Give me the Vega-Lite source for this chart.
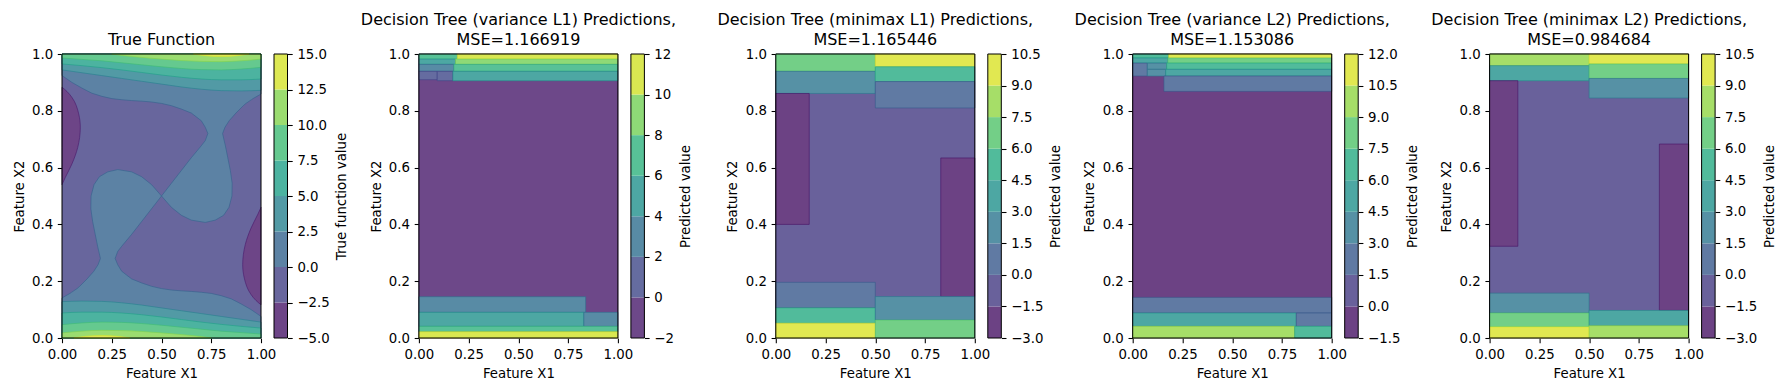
{
"$schema":"https://vega.github.io/schema/vega-lite/v6.json",
"padding":{"left":12,"top":12,"right":5,"bottom":5},
"bounds":"flush",
"spacing":157.9,
"resolve":{"scale":{"color":"independent","stroke":"independent"}},
"config":{
 "font":"DejaVu Sans",
 "view":{"stroke":null},
 "axis":{"labelFont":"DejaVu Sans","labelFontSize":13.3,"labelColor":"black","titleFont":"DejaVu Sans","titleFontSize":13.3,"titleFontWeight":"normal","titleColor":"black","tickColor":"black","tickSize":4.7,"tickWidth":1.07,"labelPadding":4.7,"titlePadding":5.3,"domain":false,"grid":false,"labelFlush":false,"labelOverlap":false},
 "title":{"font":"DejaVu Sans","fontSize":16,"fontWeight":"normal","color":"black","anchor":"middle","frame":"group","baseline":"bottom","offset":-0.5,"lineHeight":19.5}
},
"datasets":{
 "tree":[
  {"p":2,"x":0,"x2":1,"y":0,"y2":1,"v":-1},
  {"p":2,"x":0,"x2":0.193,"y":0.982,"y2":1,"v":7},
  {"p":2,"x":0.193,"x2":1,"y":0.982,"y2":1,"v":11},
  {"p":2,"x":0,"x2":0.184,"y":0.9635,"y2":0.982,"v":5},
  {"p":2,"x":0.184,"x2":1,"y":0.9635,"y2":0.982,"v":9},
  {"p":2,"x":0,"x2":0.176,"y":0.939,"y2":0.9635,"v":3},
  {"p":2,"x":0.176,"x2":1,"y":0.939,"y2":0.9635,"v":7},
  {"p":2,"x":0,"x2":0.092,"y":0.9096,"y2":0.939,"v":1},
  {"p":2,"x":0.092,"x2":0.171,"y":0.906,"y2":0.939,"v":1},
  {"p":2,"x":0.171,"x2":1,"y":0.906,"y2":0.939,"v":5},
  {"p":2,"x":0,"x2":0.838,"y":0.0903,"y2":0.1454,"v":3},
  {"p":2,"x":0,"x2":0.829,"y":0.041,"y2":0.0903,"v":5},
  {"p":2,"x":0.829,"x2":1,"y":0.041,"y2":0.0903,"v":3},
  {"p":2,"x":0,"x2":1,"y":0.022,"y2":0.041,"v":7},
  {"p":2,"x":0,"x2":1,"y":0,"y2":0.022,"v":11},
  {"p":3,"x":0,"x2":1,"y":0,"y2":1,"v":-0.75},
  {"p":3,"x":0,"x2":0.5,"y":0.939,"y2":1,"v":6.75},
  {"p":3,"x":0,"x2":0.5,"y":0.861,"y2":0.939,"v":2.25},
  {"p":3,"x":0,"x2":0.168,"y":0.4,"y2":0.861,"v":-2.25},
  {"p":3,"x":0.5,"x2":1,"y":0.955,"y2":1,"v":9.75},
  {"p":3,"x":0.5,"x2":1,"y":0.903,"y2":0.955,"v":5.25},
  {"p":3,"x":0.5,"x2":1,"y":0.81,"y2":0.903,"v":0.75},
  {"p":3,"x":0.829,"x2":1,"y":0.146,"y2":0.634,"v":-2.25},
  {"p":3,"x":0,"x2":0.5,"y":0.106,"y2":0.196,"v":0.75},
  {"p":3,"x":0,"x2":0.5,"y":0.052,"y2":0.106,"v":5.25},
  {"p":3,"x":0,"x2":0.5,"y":0,"y2":0.052,"v":9.75},
  {"p":3,"x":0.5,"x2":1,"y":0.063,"y2":0.146,"v":2.25},
  {"p":3,"x":0.5,"x2":1,"y":0,"y2":0.063,"v":6.75},
  {"p":4,"x":0,"x2":1,"y":0,"y2":1,"v":-0.75},
  {"p":4,"x":0,"x2":0.181,"y":0.986,"y2":1,"v":6.75},
  {"p":4,"x":0.181,"x2":1,"y":0.986,"y2":1,"v":11.25},
  {"p":4,"x":0,"x2":0.177,"y":0.968,"y2":0.986,"v":5.25},
  {"p":4,"x":0.177,"x2":1,"y":0.968,"y2":0.986,"v":8.25},
  {"p":4,"x":0,"x2":0.0735,"y":0.9225,"y2":0.968,"v":2.25},
  {"p":4,"x":0.0735,"x2":0.171,"y":0.946,"y2":0.968,"v":3.75},
  {"p":4,"x":0.0735,"x2":0.166,"y":0.9225,"y2":0.946,"v":3.75},
  {"p":4,"x":0.171,"x2":1,"y":0.946,"y2":0.968,"v":6.75},
  {"p":4,"x":0.166,"x2":1,"y":0.9225,"y2":0.946,"v":5.25},
  {"p":4,"x":0.157,"x2":1,"y":0.8685,"y2":0.9225,"v":2.25},
  {"p":4,"x":0,"x2":1,"y":0.0879,"y2":0.143,"v":2.25},
  {"p":4,"x":0,"x2":0.822,"y":0.041,"y2":0.0879,"v":5.25},
  {"p":4,"x":0.822,"x2":1,"y":0.041,"y2":0.0879,"v":2.25},
  {"p":4,"x":0,"x2":0.814,"y":0,"y2":0.041,"v":9.75},
  {"p":4,"x":0.814,"x2":1,"y":0,"y2":0.041,"v":6.75},
  {"p":5,"x":0,"x2":1,"y":0,"y2":1,"v":-0.75},
  {"p":5,"x":0,"x2":0.5,"y":0.959,"y2":1,"v":8.25},
  {"p":5,"x":0,"x2":0.5,"y":0.906,"y2":0.959,"v":3.75},
  {"p":5,"x":0,"x2":0.142,"y":0.323,"y2":0.906,"v":-2.25},
  {"p":5,"x":0.5,"x2":1,"y":0.965,"y2":1,"v":9.75},
  {"p":5,"x":0.5,"x2":1,"y":0.914,"y2":0.965,"v":6.75},
  {"p":5,"x":0.5,"x2":1,"y":0.845,"y2":0.914,"v":2.25},
  {"p":5,"x":0.853,"x2":1,"y":0.097,"y2":0.683,"v":-2.25},
  {"p":5,"x":0,"x2":0.5,"y":0.088,"y2":0.158,"v":2.25},
  {"p":5,"x":0,"x2":0.5,"y":0.039,"y2":0.088,"v":6.75},
  {"p":5,"x":0,"x2":0.5,"y":0,"y2":0.039,"v":9.75},
  {"p":5,"x":0.5,"x2":1,"y":0.043,"y2":0.097,"v":3.75},
  {"p":5,"x":0.5,"x2":1,"y":0,"y2":0.043,"v":8.25}
 ],
 "cb":[
  {"p":1,"lo":-5,"hi":-2.5,"v":-3.75},{"p":1,"lo":-2.5,"hi":0,"v":-1.25},{"p":1,"lo":0,"hi":2.5,"v":1.25},{"p":1,"lo":2.5,"hi":5,"v":3.75},{"p":1,"lo":5,"hi":7.5,"v":6.25},{"p":1,"lo":7.5,"hi":10,"v":8.75},{"p":1,"lo":10,"hi":12.5,"v":11.25},{"p":1,"lo":12.5,"hi":15,"v":13.75},
  {"p":2,"lo":-2,"hi":0,"v":-1},{"p":2,"lo":0,"hi":2,"v":1},{"p":2,"lo":2,"hi":4,"v":3},{"p":2,"lo":4,"hi":6,"v":5},{"p":2,"lo":6,"hi":8,"v":7},{"p":2,"lo":8,"hi":10,"v":9},{"p":2,"lo":10,"hi":12,"v":11},
  {"p":3,"lo":-3,"hi":-1.5,"v":-2.25},{"p":3,"lo":-1.5,"hi":0,"v":-0.75},{"p":3,"lo":0,"hi":1.5,"v":0.75},{"p":3,"lo":1.5,"hi":3,"v":2.25},{"p":3,"lo":3,"hi":4.5,"v":3.75},{"p":3,"lo":4.5,"hi":6,"v":5.25},{"p":3,"lo":6,"hi":7.5,"v":6.75},{"p":3,"lo":7.5,"hi":9,"v":8.25},{"p":3,"lo":9,"hi":10.5,"v":9.75},
  {"p":4,"lo":-1.5,"hi":0,"v":-0.75},{"p":4,"lo":0,"hi":1.5,"v":0.75},{"p":4,"lo":1.5,"hi":3,"v":2.25},{"p":4,"lo":3,"hi":4.5,"v":3.75},{"p":4,"lo":4.5,"hi":6,"v":5.25},{"p":4,"lo":6,"hi":7.5,"v":6.75},{"p":4,"lo":7.5,"hi":9,"v":8.25},{"p":4,"lo":9,"hi":10.5,"v":9.75},{"p":4,"lo":10.5,"hi":12,"v":11.25},
  {"p":5,"lo":-3,"hi":-1.5,"v":-2.25},{"p":5,"lo":-1.5,"hi":0,"v":-0.75},{"p":5,"lo":0,"hi":1.5,"v":0.75},{"p":5,"lo":1.5,"hi":3,"v":2.25},{"p":5,"lo":3,"hi":4.5,"v":3.75},{"p":5,"lo":4.5,"hi":6,"v":5.25},{"p":5,"lo":6,"hi":7.5,"v":6.75},{"p":5,"lo":7.5,"hi":9,"v":8.25},{"p":5,"lo":9,"hi":10.5,"v":9.75}
 ],
 "f":[
  {"s":"bg","x":0,"x2":1,"y":0,"y2":1,"v":-1.25},
  {"s":"t2","x":0,"y":0.944,"y2":1,"v":3.75},{"s":"t2","x":0.1,"y":0.934,"y2":1,"v":3.75},{"s":"t2","x":0.2,"y":0.924,"y2":1,"v":3.75},{"s":"t2","x":0.3,"y":0.914,"y2":1,"v":3.75},{"s":"t2","x":0.4,"y":0.904,"y2":1,"v":3.75},{"s":"t2","x":0.5,"y":0.894,"y2":1,"v":3.75},{"s":"t2","x":0.6,"y":0.884,"y2":1,"v":3.75},{"s":"t2","x":0.7,"y":0.876,"y2":1,"v":3.75},{"s":"t2","x":0.8,"y":0.871,"y2":1,"v":3.75},{"s":"t2","x":0.9,"y":0.87,"y2":1,"v":3.75},{"s":"t2","x":1,"y":0.872,"y2":1,"v":3.75},
  {"s":"t5","x":0,"y":0.965,"y2":1,"v":6.25},{"s":"t5","x":0.1,"y":0.959,"y2":1,"v":6.25},{"s":"t5","x":0.2,"y":0.952,"y2":1,"v":6.25},{"s":"t5","x":0.3,"y":0.944,"y2":1,"v":6.25},{"s":"t5","x":0.4,"y":0.935,"y2":1,"v":6.25},{"s":"t5","x":0.5,"y":0.926,"y2":1,"v":6.25},{"s":"t5","x":0.6,"y":0.918,"y2":1,"v":6.25},{"s":"t5","x":0.7,"y":0.912,"y2":1,"v":6.25},{"s":"t5","x":0.8,"y":0.909,"y2":1,"v":6.25},{"s":"t5","x":0.9,"y":0.909,"y2":1,"v":6.25},{"s":"t5","x":1,"y":0.912,"y2":1,"v":6.25},
  {"s":"t7","x":0,"y":0.986,"y2":1,"v":8.75},{"s":"t7","x":0.1,"y":0.981,"y2":1,"v":8.75},{"s":"t7","x":0.2,"y":0.976,"y2":1,"v":8.75},{"s":"t7","x":0.3,"y":0.969,"y2":1,"v":8.75},{"s":"t7","x":0.4,"y":0.962,"y2":1,"v":8.75},{"s":"t7","x":0.5,"y":0.955,"y2":1,"v":8.75},{"s":"t7","x":0.6,"y":0.949,"y2":1,"v":8.75},{"s":"t7","x":0.7,"y":0.945,"y2":1,"v":8.75},{"s":"t7","x":0.8,"y":0.944,"y2":1,"v":8.75},{"s":"t7","x":0.9,"y":0.947,"y2":1,"v":8.75},{"s":"t7","x":1,"y":0.953,"y2":1,"v":8.75},
  {"s":"t10","x":0.25,"y":1,"y2":1,"v":11.25},{"s":"t10","x":0.3,"y":0.995,"y2":1,"v":11.25},{"s":"t10","x":0.4,"y":0.988,"y2":1,"v":11.25},{"s":"t10","x":0.5,"y":0.982,"y2":1,"v":11.25},{"s":"t10","x":0.6,"y":0.977,"y2":1,"v":11.25},{"s":"t10","x":0.7,"y":0.974,"y2":1,"v":11.25},{"s":"t10","x":0.8,"y":0.973,"y2":1,"v":11.25},{"s":"t10","x":0.9,"y":0.976,"y2":1,"v":11.25},{"s":"t10","x":1,"y":0.982,"y2":1,"v":11.25},
  {"s":"t12","x":0.66,"y":1,"y2":1,"v":13.75},{"s":"t12","x":0.72,"y":0.994,"y2":1,"v":13.75},{"s":"t12","x":0.8,"y":0.991,"y2":1,"v":13.75},{"s":"t12","x":0.88,"y":0.994,"y2":1,"v":13.75},{"s":"t12","x":0.94,"y":1,"y2":1,"v":13.75},
  {"s":"b2","x":0,"y":0,"y2":0.128,"v":3.75},{"s":"b2","x":0.1,"y":0,"y2":0.13,"v":3.75},{"s":"b2","x":0.2,"y":0,"y2":0.129,"v":3.75},{"s":"b2","x":0.3,"y":0,"y2":0.124,"v":3.75},{"s":"b2","x":0.4,"y":0,"y2":0.116,"v":3.75},{"s":"b2","x":0.5,"y":0,"y2":0.106,"v":3.75},{"s":"b2","x":0.6,"y":0,"y2":0.096,"v":3.75},{"s":"b2","x":0.7,"y":0,"y2":0.086,"v":3.75},{"s":"b2","x":0.8,"y":0,"y2":0.076,"v":3.75},{"s":"b2","x":0.9,"y":0,"y2":0.066,"v":3.75},{"s":"b2","x":1,"y":0,"y2":0.056,"v":3.75},
  {"s":"b5","x":0,"y":0,"y2":0.088,"v":6.25},{"s":"b5","x":0.1,"y":0,"y2":0.091,"v":6.25},{"s":"b5","x":0.2,"y":0,"y2":0.091,"v":6.25},{"s":"b5","x":0.3,"y":0,"y2":0.088,"v":6.25},{"s":"b5","x":0.4,"y":0,"y2":0.082,"v":6.25},{"s":"b5","x":0.5,"y":0,"y2":0.074,"v":6.25},{"s":"b5","x":0.6,"y":0,"y2":0.065,"v":6.25},{"s":"b5","x":0.7,"y":0,"y2":0.056,"v":6.25},{"s":"b5","x":0.8,"y":0,"y2":0.048,"v":6.25},{"s":"b5","x":0.9,"y":0,"y2":0.041,"v":6.25},{"s":"b5","x":1,"y":0,"y2":0.035,"v":6.25},
  {"s":"b7","x":0,"y":0,"y2":0.047,"v":8.75},{"s":"b7","x":0.1,"y":0,"y2":0.053,"v":8.75},{"s":"b7","x":0.2,"y":0,"y2":0.056,"v":8.75},{"s":"b7","x":0.3,"y":0,"y2":0.055,"v":8.75},{"s":"b7","x":0.4,"y":0,"y2":0.051,"v":8.75},{"s":"b7","x":0.5,"y":0,"y2":0.045,"v":8.75},{"s":"b7","x":0.6,"y":0,"y2":0.038,"v":8.75},{"s":"b7","x":0.7,"y":0,"y2":0.031,"v":8.75},{"s":"b7","x":0.8,"y":0,"y2":0.024,"v":8.75},{"s":"b7","x":0.9,"y":0,"y2":0.019,"v":8.75},{"s":"b7","x":1,"y":0,"y2":0.014,"v":8.75},
  {"s":"b10","x":0,"y":0,"y2":0.018,"v":11.25},{"s":"b10","x":0.1,"y":0,"y2":0.024,"v":11.25},{"s":"b10","x":0.2,"y":0,"y2":0.027,"v":11.25},{"s":"b10","x":0.3,"y":0,"y2":0.026,"v":11.25},{"s":"b10","x":0.4,"y":0,"y2":0.023,"v":11.25},{"s":"b10","x":0.5,"y":0,"y2":0.018,"v":11.25},{"s":"b10","x":0.6,"y":0,"y2":0.012,"v":11.25},{"s":"b10","x":0.7,"y":0,"y2":0.005,"v":11.25},{"s":"b10","x":0.75,"y":0,"y2":0,"v":11.25},
  {"s":"b12","x":0.06,"y":0,"y2":0,"v":13.75},{"s":"b12","x":0.12,"y":0,"y2":0.006,"v":13.75},{"s":"b12","x":0.2,"y":0,"y2":0.009,"v":13.75},{"s":"b12","x":0.28,"y":0,"y2":0.006,"v":13.75},{"s":"b12","x":0.34,"y":0,"y2":0,"v":13.75},
  {"s":"sl","g":"T","y":0.407,"x":0.72,"x2":0.72,"v":1.25},{"s":"sl","g":"T","y":0.415,"x":0.65,"x2":0.77,"v":1.25},{"s":"sl","g":"T","y":0.432,"x":0.6,"x2":0.812,"v":1.25},{"s":"sl","g":"T","y":0.46,"x":0.55,"x2":0.839,"v":1.25},{"s":"sl","g":"T","y":0.5,"x":0.5,"x2":0.854,"v":1.25},{"s":"sl","g":"T","y":0.545,"x":0.55,"x2":0.855,"v":1.25},{"s":"sl","g":"T","y":0.59,"x":0.6,"x2":0.846,"v":1.25},{"s":"sl","g":"T","y":0.635,"x":0.65,"x2":0.833,"v":1.25},{"s":"sl","g":"T","y":0.677,"x":0.7,"x2":0.821,"v":1.25},{"s":"sl","g":"T","y":0.695,"x":0.72,"x2":0.815,"v":1.25},{"s":"sl","g":"T","y":0.72,"x":0.733,"x2":0.807,"v":1.25},{"s":"sl","g":"T","y":0.742,"x":0.72,"x2":0.819,"v":1.25},{"s":"sl","g":"T","y":0.765,"x":0.7,"x2":0.84,"v":1.25},{"s":"sl","g":"T","y":0.792,"x":0.65,"x2":0.874,"v":1.25},{"s":"sl","g":"T","y":0.806,"x":0.6,"x2":0.894,"v":1.25},{"s":"sl","g":"T","y":0.818,"x":0.55,"x2":0.911,"v":1.25},{"s":"sl","g":"T","y":0.826,"x":0.5,"x2":0.924,"v":1.25},{"s":"sl","g":"T","y":0.831,"x":0.45,"x2":0.935,"v":1.25},{"s":"sl","g":"T","y":0.834,"x":0.4,"x2":0.941,"v":1.25},{"s":"sl","g":"T","y":0.836,"x":0.35,"x2":0.945,"v":1.25},{"s":"sl","g":"T","y":0.839,"x":0.3,"x2":0.952,"v":1.25},{"s":"sl","g":"T","y":0.843,"x":0.25,"x2":0.96,"v":1.25},{"s":"sl","g":"T","y":0.851,"x":0.2,"x2":0.98,"v":1.25},{"s":"sl","g":"T","y":0.859,"x":0.164,"x2":1,"v":1.25},{"s":"sl","g":"T","y":0.862,"x":0.15,"x2":1,"v":1.25},{"s":"sl","g":"T","y":0.88,"x":0.1,"x2":1,"v":1.25},{"s":"sl","g":"T","y":0.9,"x":0.05,"x2":1,"v":1.25},{"s":"sl","g":"T","y":0.924,"x":0,"x2":1,"v":1.25},{"s":"sl","g":"T","y":1,"x":0,"x2":1,"v":1.25},
  {"s":"sl","g":"B","y":0,"x":0,"x2":1,"v":1.25},{"s":"sl","g":"B","y":0.076,"x":0,"x2":1,"v":1.25},{"s":"sl","g":"B","y":0.1,"x":0,"x2":0.95,"v":1.25},{"s":"sl","g":"B","y":0.12,"x":0,"x2":0.9,"v":1.25},{"s":"sl","g":"B","y":0.138,"x":0,"x2":0.85,"v":1.25},{"s":"sl","g":"B","y":0.141,"x":0,"x2":0.836,"v":1.25},{"s":"sl","g":"B","y":0.149,"x":0.02,"x2":0.8,"v":1.25},{"s":"sl","g":"B","y":0.157,"x":0.04,"x2":0.75,"v":1.25},{"s":"sl","g":"B","y":0.161,"x":0.048,"x2":0.7,"v":1.25},{"s":"sl","g":"B","y":0.164,"x":0.055,"x2":0.65,"v":1.25},{"s":"sl","g":"B","y":0.166,"x":0.059,"x2":0.6,"v":1.25},{"s":"sl","g":"B","y":0.169,"x":0.065,"x2":0.55,"v":1.25},{"s":"sl","g":"B","y":0.174,"x":0.076,"x2":0.5,"v":1.25},{"s":"sl","g":"B","y":0.182,"x":0.089,"x2":0.45,"v":1.25},{"s":"sl","g":"B","y":0.194,"x":0.106,"x2":0.4,"v":1.25},{"s":"sl","g":"B","y":0.208,"x":0.126,"x2":0.35,"v":1.25},{"s":"sl","g":"B","y":0.235,"x":0.16,"x2":0.3,"v":1.25},{"s":"sl","g":"B","y":0.258,"x":0.181,"x2":0.28,"v":1.25},{"s":"sl","g":"B","y":0.28,"x":0.193,"x2":0.267,"v":1.25},{"s":"sl","g":"B","y":0.305,"x":0.185,"x2":0.28,"v":1.25},{"s":"sl","g":"B","y":0.323,"x":0.179,"x2":0.3,"v":1.25},{"s":"sl","g":"B","y":0.365,"x":0.167,"x2":0.35,"v":1.25},{"s":"sl","g":"B","y":0.41,"x":0.154,"x2":0.4,"v":1.25},{"s":"sl","g":"B","y":0.455,"x":0.145,"x2":0.45,"v":1.25},{"s":"sl","g":"B","y":0.5,"x":0.146,"x2":0.5,"v":1.25},{"s":"sl","g":"B","y":0.54,"x":0.161,"x2":0.45,"v":1.25},{"s":"sl","g":"B","y":0.568,"x":0.188,"x2":0.4,"v":1.25},{"s":"sl","g":"B","y":0.585,"x":0.23,"x2":0.35,"v":1.25},{"s":"sl","g":"B","y":0.593,"x":0.28,"x2":0.28,"v":1.25},
  {"s":"blob","g":"L","y":0.54,"x":0,"x2":0,"v":-3.75},{"s":"blob","g":"L","y":0.566,"x":0,"x2":0.017,"v":-3.75},{"s":"blob","g":"L","y":0.613,"x":0,"x2":0.05,"v":-3.75},{"s":"blob","g":"L","y":0.671,"x":0,"x2":0.079,"v":-3.75},{"s":"blob","g":"L","y":0.742,"x":0,"x2":0.092,"v":-3.75},{"s":"blob","g":"L","y":0.789,"x":0,"x2":0.084,"v":-3.75},{"s":"blob","g":"L","y":0.847,"x":0,"x2":0.05,"v":-3.75},{"s":"blob","g":"L","y":0.868,"x":0,"x2":0.025,"v":-3.75},{"s":"blob","g":"L","y":0.883,"x":0,"x2":0,"v":-3.75},
  {"s":"blob","g":"R","y":0.117,"x":1,"x2":1,"v":-3.75},{"s":"blob","g":"R","y":0.132,"x":0.975,"x2":1,"v":-3.75},{"s":"blob","g":"R","y":0.153,"x":0.95,"x2":1,"v":-3.75},{"s":"blob","g":"R","y":0.211,"x":0.916,"x2":1,"v":-3.75},{"s":"blob","g":"R","y":0.258,"x":0.908,"x2":1,"v":-3.75},{"s":"blob","g":"R","y":0.329,"x":0.921,"x2":1,"v":-3.75},{"s":"blob","g":"R","y":0.387,"x":0.95,"x2":1,"v":-3.75},{"s":"blob","g":"R","y":0.434,"x":0.983,"x2":1,"v":-3.75},{"s":"blob","g":"R","y":0.46,"x":1,"x2":1,"v":-3.75}
 ]
},
"hconcat":[
 {"width":199,"height":284,"title":{"text":"True Function"},
  "resolve":{"scale":{"x":"independent","y":"independent"},"axis":{"x":"independent","y":"independent"}},
  "layer":[
   {"data":{"name":"f"},"transform":[{"filter":"datum.s=='bg'"}],"mark":"rect",
    "encoding":{"x":{"field":"x","type":"quantitative","scale":{"domain":[0,1],"nice":false,"zero":false},"axis":{"values":[0,0.25,0.5,0.75,1],"format":".2f","title":"Feature X1"}},"x2":{"field":"x2"},
     "y":{"field":"y","type":"quantitative","scale":{"domain":[0,1],"nice":false,"zero":false},"axis":{"values":[0,0.2,0.4,0.6,0.8,1],"format":".1f","title":"Feature X2"}},"y2":{"field":"y2"},
     "color":{"field":"v","type":"quantitative","scale":{"type":"threshold","domain":[-2.5,0,2.5,5,7.5,10,12.5],"range":["#6d4587","#68669d","#5c82a4","#529aa5","#4cb3a0","#65c98f","#9bdc70","#dde853"]},"legend":null}}},
   {"data":{"name":"f"},"transform":[{"filter":"datum.s=='sl'"}],"mark":{"type":"area","orient":"horizontal","interpolate":"linear","strokeWidth":0.6},
    "encoding":{"y":{"field":"y","type":"quantitative","scale":{"domain":[0,1],"nice":false,"zero":false},"axis":null},
     "x":{"field":"x","type":"quantitative","scale":{"domain":[0,1],"nice":false,"zero":false},"axis":null,"stack":null},"x2":{"field":"x2"},
     "color":{"field":"v","type":"quantitative","scale":{"type":"threshold","domain":[-2.5,0,2.5,5,7.5,10,12.5],"range":["#6d4587","#68669d","#5c82a4","#529aa5","#4cb3a0","#65c98f","#9bdc70","#dde853"]},"legend":null},
     "stroke":{"field":"v","type":"quantitative","scale":{"type":"threshold","domain":[-2.5,0,2.5,5,7.5,10,12.5],"range":["#481769","#424085","#34628d","#27808e","#20a088","#3ebc73","#82d34c","#d5e228"]},"legend":null},
     "detail":{"field":"g"}}},
   {"data":{"name":"f"},"transform":[{"filter":"datum.s=='blob'"}],"mark":{"type":"area","orient":"horizontal","interpolate":"monotone","strokeWidth":0.6},
    "encoding":{"y":{"field":"y","type":"quantitative","scale":{"domain":[0,1],"nice":false,"zero":false},"axis":null},
     "x":{"field":"x","type":"quantitative","scale":{"domain":[0,1],"nice":false,"zero":false},"axis":null,"stack":null},"x2":{"field":"x2"},
     "color":{"field":"v","type":"quantitative","scale":{"type":"threshold","domain":[-2.5,0,2.5,5,7.5,10,12.5],"range":["#6d4587","#68669d","#5c82a4","#529aa5","#4cb3a0","#65c98f","#9bdc70","#dde853"]},"legend":null},
     "stroke":{"field":"v","type":"quantitative","scale":{"type":"threshold","domain":[-2.5,0,2.5,5,7.5,10,12.5],"range":["#481769","#424085","#34628d","#27808e","#20a088","#3ebc73","#82d34c","#d5e228"]},"legend":null},
     "detail":{"field":"g"}}},
   {"data":{"name":"f"},
    "encoding":{"x":{"field":"x","type":"quantitative","scale":{"domain":[0,1],"nice":false,"zero":false},"axis":null},
     "y":{"field":"y","type":"quantitative","scale":{"domain":[0,1],"nice":false,"zero":false},"axis":null,"stack":null},"y2":{"field":"y2"},
     "color":{"field":"v","type":"quantitative","scale":{"type":"threshold","domain":[-2.5,0,2.5,5,7.5,10,12.5],"range":["#6d4587","#68669d","#5c82a4","#529aa5","#4cb3a0","#65c98f","#9bdc70","#dde853"]},"legend":null},
     "stroke":{"field":"v","type":"quantitative","scale":{"type":"threshold","domain":[-2.5,0,2.5,5,7.5,10,12.5],"range":["#481769","#424085","#34628d","#27808e","#20a088","#3ebc73","#82d34c","#d5e228"]},"legend":null}},
    "layer":[
     {"transform":[{"filter":"datum.s=='t2'"}],"mark":{"type":"area","interpolate":"monotone","strokeWidth":0.6}},
     {"transform":[{"filter":"datum.s=='t5'"}],"mark":{"type":"area","interpolate":"monotone","strokeWidth":0.6}},
     {"transform":[{"filter":"datum.s=='t7'"}],"mark":{"type":"area","interpolate":"monotone","strokeWidth":0.6}},
     {"transform":[{"filter":"datum.s=='t10'"}],"mark":{"type":"area","interpolate":"monotone","strokeWidth":0.6}},
     {"transform":[{"filter":"datum.s=='t12'"}],"mark":{"type":"area","interpolate":"monotone","strokeWidth":0.6}},
     {"transform":[{"filter":"datum.s=='b2'"}],"mark":{"type":"area","interpolate":"monotone","strokeWidth":0.6}},
     {"transform":[{"filter":"datum.s=='b5'"}],"mark":{"type":"area","interpolate":"monotone","strokeWidth":0.6}},
     {"transform":[{"filter":"datum.s=='b7'"}],"mark":{"type":"area","interpolate":"monotone","strokeWidth":0.6}},
     {"transform":[{"filter":"datum.s=='b10'"}],"mark":{"type":"area","interpolate":"monotone","strokeWidth":0.6}},
     {"transform":[{"filter":"datum.s=='b12'"}],"mark":{"type":"area","interpolate":"monotone","strokeWidth":0.6}}
    ]},
   {"data":{"values":[{}]},"mark":{"type":"rect","filled":false,"stroke":"black","strokeWidth":1},
    "encoding":{"x":{"datum":0,"type":"quantitative","scale":{"domain":[0,1],"nice":false,"zero":false},"axis":null},"x2":{"datum":1},"y":{"datum":0,"type":"quantitative","scale":{"domain":[0,1],"nice":false,"zero":false},"axis":null},"y2":{"datum":1}}},
   {"data":{"name":"cb"},"transform":[{"filter":"datum.p==1"}],"mark":"rect",
    "encoding":{"x":{"datum":0,"type":"quantitative","scale":{"domain":[0,1],"range":[212,225.5]},"axis":null},"x2":{"datum":1},
     "y":{"field":"lo","type":"quantitative","scale":{"domain":[-5,15],"nice":false,"zero":false},"axis":{"orient":"right","offset":26.5,"values":[-5,-2.5,0,2.5,5,7.5,10,12.5,15],"format":".1f","title":"True function value","titleAngle":270,"titleBaseline":"top"}},"y2":{"field":"hi"},
     "color":{"field":"v","type":"quantitative","scale":{"type":"threshold","domain":[-2.5,0,2.5,5,7.5,10,12.5],"range":["#6d4587","#68669d","#5c82a4","#529aa5","#4cb3a0","#65c98f","#9bdc70","#dde853"]},"legend":null}}},
   {"data":{"values":[{}]},"mark":{"type":"rect","filled":false,"stroke":"black","strokeWidth":1},
    "encoding":{"x":{"datum":0,"type":"quantitative","scale":{"domain":[0,1],"range":[212,225.5]},"axis":null},"x2":{"datum":1},"y":{"datum":-5,"type":"quantitative","scale":{"domain":[-5,15],"nice":false,"zero":false},"axis":null},"y2":{"datum":15}}}
  ]},
 {"width":199,"height":284,"title":{"text":["Decision Tree (variance L1) Predictions,","MSE=1.166919"]},
  "resolve":{"scale":{"x":"independent","y":"independent"},"axis":{"x":"independent","y":"independent"}},
  "layer":[
   {"data":{"name":"tree"},"transform":[{"filter":"datum.p==2"}],"mark":{"type":"rect","strokeWidth":0.6},
    "encoding":{"x":{"field":"x","type":"quantitative","scale":{"domain":[0,1],"nice":false,"zero":false},"axis":{"values":[0,0.25,0.5,0.75,1],"format":".2f","title":"Feature X1"}},"x2":{"field":"x2"},
     "y":{"field":"y","type":"quantitative","scale":{"domain":[0,1],"nice":false,"zero":false},"axis":{"values":[0,0.2,0.4,0.6,0.8,1],"format":".1f","title":"Feature X2"}},"y2":{"field":"y2"},
     "color":{"field":"v","type":"quantitative","scale":{"type":"threshold","domain":[0,2,4,6,8,10],"range":["#6d4889","#656ca0","#588ba5","#4da7a3","#58c197","#8ed977","#d9e751"]},"legend":null},
     "stroke":{"field":"v","type":"quantitative","scale":{"type":"threshold","domain":[0,2,4,6,8,10],"range":["#481a6c","#3f4788","#2f6e8e","#21918c","#2eb27d","#72cf56","#d0e126"]},"legend":null}}},
   {"data":{"values":[{}]},"mark":{"type":"rect","filled":false,"stroke":"black","strokeWidth":1},
    "encoding":{"x":{"datum":0,"type":"quantitative","scale":{"domain":[0,1],"nice":false,"zero":false},"axis":null},"x2":{"datum":1},"y":{"datum":0,"type":"quantitative","scale":{"domain":[0,1],"nice":false,"zero":false},"axis":null},"y2":{"datum":1}}},
   {"data":{"name":"cb"},"transform":[{"filter":"datum.p==2"}],"mark":"rect",
    "encoding":{"x":{"datum":0,"type":"quantitative","scale":{"domain":[0,1],"range":[212,225.5]},"axis":null},"x2":{"datum":1},
     "y":{"field":"lo","type":"quantitative","scale":{"domain":[-2,12],"nice":false,"zero":false},"axis":{"orient":"right","offset":26.5,"values":[-2,0,2,4,6,8,10,12],"format":"d","title":"Predicted value","titleAngle":270,"titleBaseline":"top"}},"y2":{"field":"hi"},
     "color":{"field":"v","type":"quantitative","scale":{"type":"threshold","domain":[0,2,4,6,8,10],"range":["#6d4889","#656ca0","#588ba5","#4da7a3","#58c197","#8ed977","#d9e751"]},"legend":null}}},
   {"data":{"values":[{}]},"mark":{"type":"rect","filled":false,"stroke":"black","strokeWidth":1},
    "encoding":{"x":{"datum":0,"type":"quantitative","scale":{"domain":[0,1],"range":[212,225.5]},"axis":null},"x2":{"datum":1},"y":{"datum":-2,"type":"quantitative","scale":{"domain":[-2,12],"nice":false,"zero":false},"axis":null},"y2":{"datum":12}}}
  ]},
 {"width":199,"height":284,"title":{"text":["Decision Tree (minimax L1) Predictions,","MSE=1.165446"]},
  "resolve":{"scale":{"x":"independent","y":"independent"},"axis":{"x":"independent","y":"independent"}},
  "layer":[
   {"data":{"name":"tree"},"transform":[{"filter":"datum.p==3"}],"mark":{"type":"rect","strokeWidth":0.6},
    "encoding":{"x":{"field":"x","type":"quantitative","scale":{"domain":[0,1],"nice":false,"zero":false},"axis":{"values":[0,0.25,0.5,0.75,1],"format":".2f","title":"Feature X1"}},"x2":{"field":"x2"},
     "y":{"field":"y","type":"quantitative","scale":{"domain":[0,1],"nice":false,"zero":false},"axis":{"values":[0,0.2,0.4,0.6,0.8,1],"format":".1f","title":"Feature X2"}},"y2":{"field":"y2"},
     "color":{"field":"v","type":"quantitative","scale":{"type":"threshold","domain":[-1.5,0,1.5,3,4.5,6,7.5,9],"range":["#6c4284","#69619b","#607aa3","#5691a5","#4da7a3","#51bb9b","#73cf87","#a6de68","#e1e851"]},"legend":null},
     "stroke":{"field":"v","type":"quantitative","scale":{"type":"threshold","domain":[-1.5,0,1.5,3,4.5,6,7.5,9],"range":["#471365","#443a81","#38598c","#2b758e","#21918c","#25ab82","#50c369","#90d643","#d9e326"]},"legend":null}}},
   {"data":{"values":[{}]},"mark":{"type":"rect","filled":false,"stroke":"black","strokeWidth":1},
    "encoding":{"x":{"datum":0,"type":"quantitative","scale":{"domain":[0,1],"nice":false,"zero":false},"axis":null},"x2":{"datum":1},"y":{"datum":0,"type":"quantitative","scale":{"domain":[0,1],"nice":false,"zero":false},"axis":null},"y2":{"datum":1}}},
   {"data":{"name":"cb"},"transform":[{"filter":"datum.p==3"}],"mark":"rect",
    "encoding":{"x":{"datum":0,"type":"quantitative","scale":{"domain":[0,1],"range":[212,225.5]},"axis":null},"x2":{"datum":1},
     "y":{"field":"lo","type":"quantitative","scale":{"domain":[-3,10.5],"nice":false,"zero":false},"axis":{"orient":"right","offset":26.5,"values":[-3,-1.5,0,1.5,3,4.5,6,7.5,9,10.5],"format":".1f","title":"Predicted value","titleAngle":270,"titleBaseline":"top"}},"y2":{"field":"hi"},
     "color":{"field":"v","type":"quantitative","scale":{"type":"threshold","domain":[-1.5,0,1.5,3,4.5,6,7.5,9],"range":["#6c4284","#69619b","#607aa3","#5691a5","#4da7a3","#51bb9b","#73cf87","#a6de68","#e1e851"]},"legend":null}}},
   {"data":{"values":[{}]},"mark":{"type":"rect","filled":false,"stroke":"black","strokeWidth":1},
    "encoding":{"x":{"datum":0,"type":"quantitative","scale":{"domain":[0,1],"range":[212,225.5]},"axis":null},"x2":{"datum":1},"y":{"datum":-3,"type":"quantitative","scale":{"domain":[-3,10.5],"nice":false,"zero":false},"axis":null},"y2":{"datum":10.5}}}
  ]},
 {"width":199,"height":284,"title":{"text":["Decision Tree (variance L2) Predictions,","MSE=1.153086"]},
  "resolve":{"scale":{"x":"independent","y":"independent"},"axis":{"x":"independent","y":"independent"}},
  "layer":[
   {"data":{"name":"tree"},"transform":[{"filter":"datum.p==4"}],"mark":{"type":"rect","strokeWidth":0.6},
    "encoding":{"x":{"field":"x","type":"quantitative","scale":{"domain":[0,1],"nice":false,"zero":false},"axis":{"values":[0,0.25,0.5,0.75,1],"format":".2f","title":"Feature X1"}},"x2":{"field":"x2"},
     "y":{"field":"y","type":"quantitative","scale":{"domain":[0,1],"nice":false,"zero":false},"axis":{"values":[0,0.2,0.4,0.6,0.8,1],"format":".1f","title":"Feature X2"}},"y2":{"field":"y2"},
     "color":{"field":"v","type":"quantitative","scale":{"type":"threshold","domain":[0,1.5,3,4.5,6,7.5,9,10.5],"range":["#6c4284","#69619b","#607aa3","#5691a5","#4da7a3","#51bb9b","#73cf87","#a6de68","#e1e851"]},"legend":null},
     "stroke":{"field":"v","type":"quantitative","scale":{"type":"threshold","domain":[0,1.5,3,4.5,6,7.5,9,10.5],"range":["#471365","#443a81","#38598c","#2b758e","#21918c","#25ab82","#50c369","#90d643","#d9e326"]},"legend":null}}},
   {"data":{"values":[{}]},"mark":{"type":"rect","filled":false,"stroke":"black","strokeWidth":1},
    "encoding":{"x":{"datum":0,"type":"quantitative","scale":{"domain":[0,1],"nice":false,"zero":false},"axis":null},"x2":{"datum":1},"y":{"datum":0,"type":"quantitative","scale":{"domain":[0,1],"nice":false,"zero":false},"axis":null},"y2":{"datum":1}}},
   {"data":{"name":"cb"},"transform":[{"filter":"datum.p==4"}],"mark":"rect",
    "encoding":{"x":{"datum":0,"type":"quantitative","scale":{"domain":[0,1],"range":[212,225.5]},"axis":null},"x2":{"datum":1},
     "y":{"field":"lo","type":"quantitative","scale":{"domain":[-1.5,12],"nice":false,"zero":false},"axis":{"orient":"right","offset":26.5,"values":[-1.5,0,1.5,3,4.5,6,7.5,9,10.5,12],"format":".1f","title":"Predicted value","titleAngle":270,"titleBaseline":"top"}},"y2":{"field":"hi"},
     "color":{"field":"v","type":"quantitative","scale":{"type":"threshold","domain":[0,1.5,3,4.5,6,7.5,9,10.5],"range":["#6c4284","#69619b","#607aa3","#5691a5","#4da7a3","#51bb9b","#73cf87","#a6de68","#e1e851"]},"legend":null}}},
   {"data":{"values":[{}]},"mark":{"type":"rect","filled":false,"stroke":"black","strokeWidth":1},
    "encoding":{"x":{"datum":0,"type":"quantitative","scale":{"domain":[0,1],"range":[212,225.5]},"axis":null},"x2":{"datum":1},"y":{"datum":-1.5,"type":"quantitative","scale":{"domain":[-1.5,12],"nice":false,"zero":false},"axis":null},"y2":{"datum":12}}}
  ]},
 {"width":199,"height":284,"title":{"text":["Decision Tree (minimax L2) Predictions,","MSE=0.984684"]},
  "resolve":{"scale":{"x":"independent","y":"independent"},"axis":{"x":"independent","y":"independent"}},
  "layer":[
   {"data":{"name":"tree"},"transform":[{"filter":"datum.p==5"}],"mark":{"type":"rect","strokeWidth":0.6},
    "encoding":{"x":{"field":"x","type":"quantitative","scale":{"domain":[0,1],"nice":false,"zero":false},"axis":{"values":[0,0.25,0.5,0.75,1],"format":".2f","title":"Feature X1"}},"x2":{"field":"x2"},
     "y":{"field":"y","type":"quantitative","scale":{"domain":[0,1],"nice":false,"zero":false},"axis":{"values":[0,0.2,0.4,0.6,0.8,1],"format":".1f","title":"Feature X2"}},"y2":{"field":"y2"},
     "color":{"field":"v","type":"quantitative","scale":{"type":"threshold","domain":[-1.5,0,1.5,3,4.5,6,7.5,9],"range":["#6c4284","#69619b","#607aa3","#5691a5","#4da7a3","#51bb9b","#73cf87","#a6de68","#e1e851"]},"legend":null},
     "stroke":{"field":"v","type":"quantitative","scale":{"type":"threshold","domain":[-1.5,0,1.5,3,4.5,6,7.5,9],"range":["#471365","#443a81","#38598c","#2b758e","#21918c","#25ab82","#50c369","#90d643","#d9e326"]},"legend":null}}},
   {"data":{"values":[{}]},"mark":{"type":"rect","filled":false,"stroke":"black","strokeWidth":1},
    "encoding":{"x":{"datum":0,"type":"quantitative","scale":{"domain":[0,1],"nice":false,"zero":false},"axis":null},"x2":{"datum":1},"y":{"datum":0,"type":"quantitative","scale":{"domain":[0,1],"nice":false,"zero":false},"axis":null},"y2":{"datum":1}}},
   {"data":{"name":"cb"},"transform":[{"filter":"datum.p==5"}],"mark":"rect",
    "encoding":{"x":{"datum":0,"type":"quantitative","scale":{"domain":[0,1],"range":[212,225.5]},"axis":null},"x2":{"datum":1},
     "y":{"field":"lo","type":"quantitative","scale":{"domain":[-3,10.5],"nice":false,"zero":false},"axis":{"orient":"right","offset":26.5,"values":[-3,-1.5,0,1.5,3,4.5,6,7.5,9,10.5],"format":".1f","title":"Predicted value","titleAngle":270,"titleBaseline":"top"}},"y2":{"field":"hi"},
     "color":{"field":"v","type":"quantitative","scale":{"type":"threshold","domain":[-1.5,0,1.5,3,4.5,6,7.5,9],"range":["#6c4284","#69619b","#607aa3","#5691a5","#4da7a3","#51bb9b","#73cf87","#a6de68","#e1e851"]},"legend":null}}},
   {"data":{"values":[{}]},"mark":{"type":"rect","filled":false,"stroke":"black","strokeWidth":1},
    "encoding":{"x":{"datum":0,"type":"quantitative","scale":{"domain":[0,1],"range":[212,225.5]},"axis":null},"x2":{"datum":1},"y":{"datum":-3,"type":"quantitative","scale":{"domain":[-3,10.5],"nice":false,"zero":false},"axis":null},"y2":{"datum":10.5}}}
  ]}
]
}
